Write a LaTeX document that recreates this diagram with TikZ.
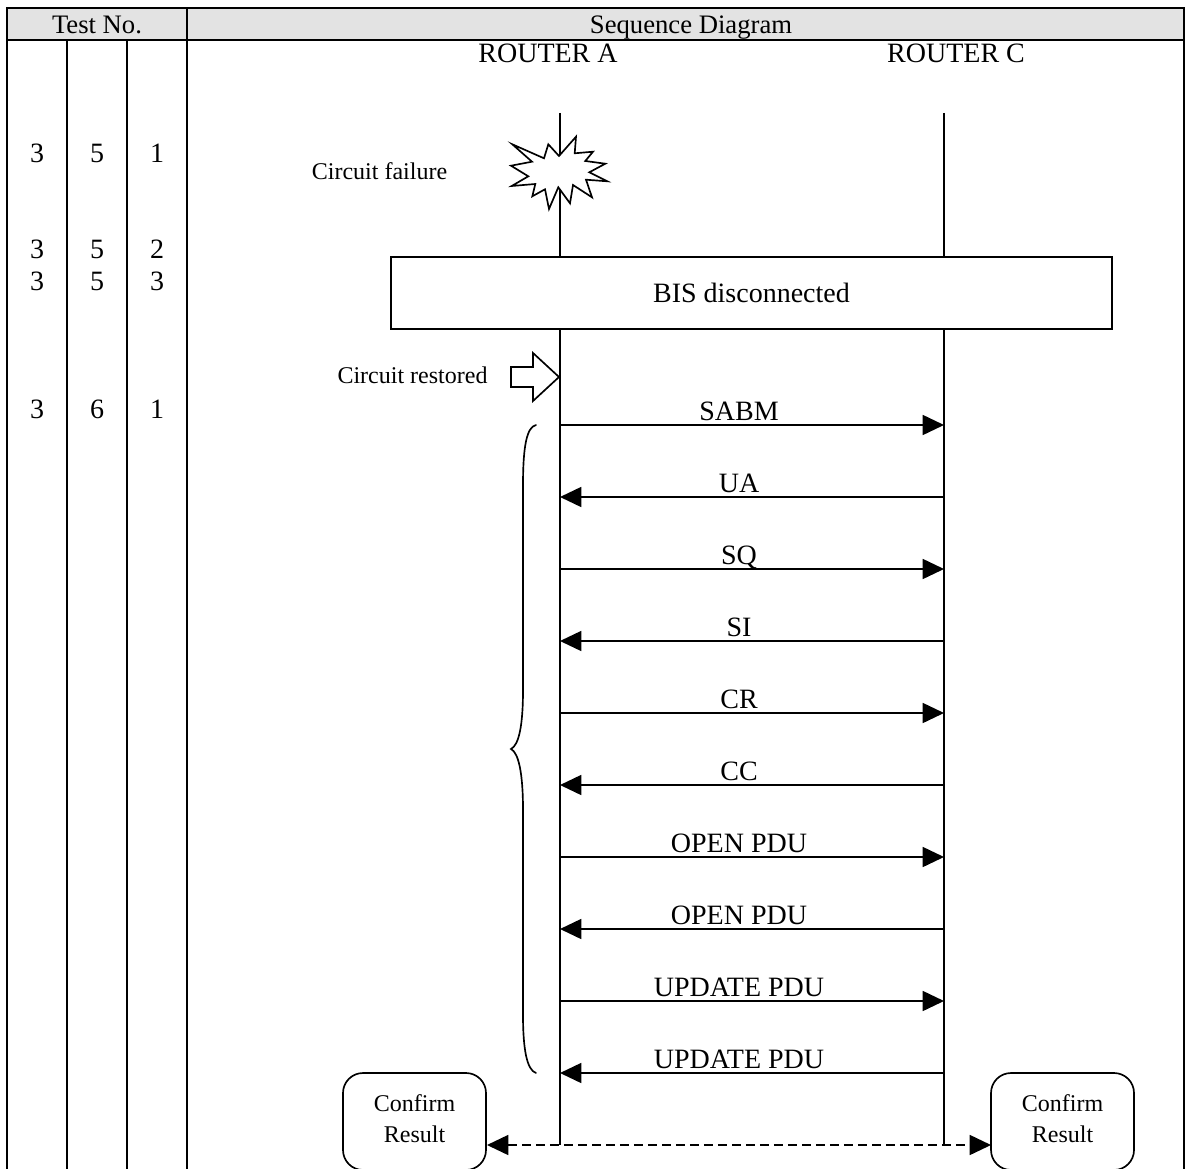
\documentclass[tikz,border=0pt]{standalone}
\usepackage{fontspec}
\setmainfont{Liberation Serif}
\usetikzlibrary{arrows.meta}
\tikzset{
  ln/.style={line width=1.25pt,line join=miter},
  hd/.style={font=\fontsize{20}{23}\selectfont,inner sep=0pt,anchor=base},
  big/.style={font=\fontsize{21}{23}\selectfont,inner sep=0pt,anchor=base},
  small/.style={font=\fontsize{18}{23}\selectfont,inner sep=0pt,anchor=base},
  msg/.style={ln,-{Triangle[length=16pt,width=15pt]}},
  confirmbox/.style={ln,draw,fill=white,rounded corners=15pt,minimum width=107.25pt,minimum height=72.75pt,inner sep=0pt,font=\fontsize{18}{23}\selectfont,align=center},
}
\begin{document}
\begin{tikzpicture}[x=0.75pt,y=-0.75pt]
\useasboundingbox (0,0) rectangle (1191,1169);
% table
\fill[fill=white] (0,0) rectangle (1191,1169);
\draw[ln,fill=black!11] (7,8) rectangle (1184,40);
\foreach \x in {7,187,1184} \draw[ln] (\x,8) -- (\x,1169);
\foreach \x in {67,127} \draw[ln] (\x,40) -- (\x,1169);
\node[hd] (hTest) at (97,34) {Test No.};
\node[hd] (hSeq) at (691,34) {Sequence Diagram};
% test numbers
\foreach \n/\y/\a/\b/\c in {r/163/3/5/1,s/259/3/5/2,t/291/3/5/3,u/418/3/6/1}{
  \node[big] (\n a) at (37,\y) {\a};
  \node[big] (\n b) at (97,\y) {\b};
  \node[big] (\n c) at (157,\y) {\c};
}
% headers
\node[big] (ra) at (548,63) {ROUTER A};
\node[big] (rc) at (956,63) {ROUTER C};
% lifelines
\coordinate (aTop) at (560,113);
\coordinate (aBot) at (560,1145);
\coordinate (cTop) at (944,113);
\coordinate (cBot) at (944,1145);
\draw[ln] (aTop) -- (aBot);
\draw[ln] (cTop) -- (cBot);
% failure star
\draw[ln,fill=white] (512.3,144.3) -- (544,158.3) -- (548.3,144.3) -- (559,156) -- (576,136.7) -- (574.7,153.3) -- (593,151.7) -- (585.3,161) -- (605.3,163.7) -- (589.3,172.3) -- (607.3,181.3) -- (586,179.7) -- (592,197.3) -- (573,185) -- (570,203.3) -- (558.3,187.3) -- (549,209) -- (545,189.3) -- (532.3,196.3) -- (535.3,184) -- (511.7,186) -- (528.3,176.3) -- (511,165.7) -- (532,161.7) -- cycle;
\node[small] (cf) at (379.5,180) {Circuit failure};
% BIS box
\node[ln,draw,fill=white,minimum width=540.75pt,minimum height=54pt,inner sep=0pt,font=\fontsize{21}{23}\selectfont] (bis) at (751.5,293) {BIS disconnected};
% restored
\node[small] (cr) at (412.5,383) {Circuit restored};
\draw[ln,fill=white] (511,367) -- (533,367) -- (533,353) -- (559,377) -- (533,401) -- (533,387) -- (511,387) -- cycle;
% messages
\foreach \n/\y/\t/\d in {
 1/425/SABM/r,2/497/UA/l,3/569/SQ/r,4/641/SI/l,5/713/CR/r,6/785/CC/l,
 7/857/OPEN PDU/r,8/929/OPEN PDU/l,9/1001/UPDATE PDU/r,10/1073/UPDATE PDU/l}{
  \coordinate (a\n) at (560,\y);
  \coordinate (c\n) at (944,\y);
  \if\d r\draw[msg] (a\n) -- (c\n);\else\draw[msg] (c\n) -- (a\n);\fi
  \node[big] (m\n) at (739,\y-5) {\t};
}
% brace
\draw[ln,line cap=round] (536,425) .. controls (527,427) and (523,445) .. (523,485) -- (523,690)
  .. controls (523,725) and (519,745) .. (511,749)
  .. controls (519,753) and (523,775) .. (523,810) -- (523,1015)
  .. controls (523,1050) and (527,1070) .. (536,1073);
% confirm boxes
\node[confirmbox] (cl) at (414.5,1121.5) {Confirm\\Result\rule[-4pt]{0pt}{4pt}};
\node[confirmbox] (cR) at (1062.5,1121.5) {Confirm\\Result\rule[-4pt]{0pt}{4pt}};
\coordinate (dl) at (487,1145);
\coordinate (dr) at (991,1145);
\draw[ln,dash pattern=on 6.5pt off 4pt,{Triangle[length=16pt,width=15pt]}-{Triangle[length=16pt,width=15pt]}] (dl) -- (dr);
\end{tikzpicture}
\end{document}
